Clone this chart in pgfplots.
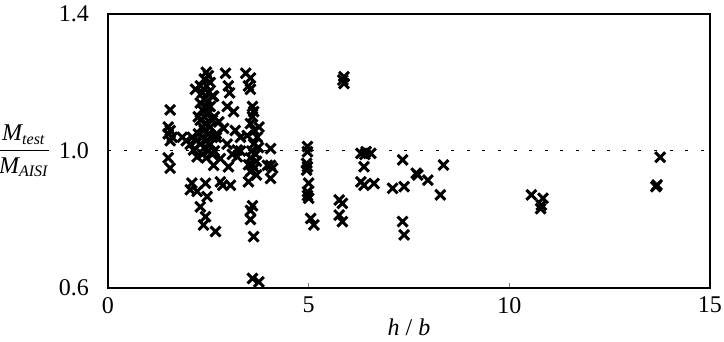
\documentclass[border=0pt]{standalone}
\usepackage{amsmath}
\usepackage{pgfplots}
\pgfplotsset{compat=1.18}
\usepackage{fontspec}
\setmainfont{Liberation Serif}
\begin{document}
\begin{tikzpicture}
\begin{axis}[
  scale only axis,
  width=301pt, height=137pt,
  xmin=0, xmax=15, ymin=0.6, ymax=1.4,
  xtick={0,5,10,15}, ytick={0.6,1.0,1.4},
  axis line style={line width=0.6pt},
  tick align=inside, xtick pos=bottom, ytick pos=left,
  major tick length=2.5pt,
  ytick style={draw=none},
  /pgf/number format/assume math mode=true,
  ticklabel style={font=\fontsize{12}{14}\selectfont},
  yticklabel style={/pgf/number format/.cd, fixed, fixed zerofill, precision=1, /tikz/.cd, xshift=-6pt},
  xticklabel style={yshift=-1pt},
  xlabel={\textit{h} / \textit{b}},
  xlabel style={at={(axis description cs:0.5,0)}, anchor=center, yshift=-19.5pt, font=\fontsize{12}{14}\selectfont},
  ylabel={$\dfrac{\textit{M}_{\textit{test}}}{\textit{M}_{\textit{AISI}}}$},
  ylabel style={rotate=-90, at={(axis description cs:0,0.5)}, anchor=east, xshift=-25pt, font=\fontsize{12}{14}\selectfont},
  clip=false,
]
\addplot[black, line width=0.5pt, dash pattern=on 1.5pt off 6.3pt] coordinates {(0,1) (15,1)};
\addplot[only marks, mark=x, mark size=3.5pt, mark options={line width=1.5pt, black}] coordinates {
(1.55,1.12) (1.5,1.07) (1.55,1.06) (1.5,1.05) (1.6,1.04) (1.55,1.03) (1.5,0.98) (1.55,0.95)
(1.85,1.04) (1.95,1.03) (2.05,1.02) (2.1,1.04) (2.22,0.983) (2.13,1.003)
(2.09,0.906) (2.05,0.887) (2.22,0.882) (2.43,0.906) (2.47,0.867) (2.3,0.837) (2.43,0.808) (2.38,0.784) (2.68,0.765)
(2.45,1.23) (2.5,1.22) (2.4,1.21) (2.55,1.20) (2.3,1.19) (2.45,1.19) (2.35,1.17) (2.5,1.17) (2.6,1.16) (2.4,1.15)
(2.3,1.14) (2.45,1.13) (2.55,1.13) (2.35,1.12) (2.5,1.11) (2.4,1.10) (2.3,1.09) (2.6,1.09) (2.45,1.08) (2.35,1.07)
(2.55,1.07) (2.4,1.06) (2.25,1.05) (2.5,1.05) (2.35,1.04) (2.6,1.04) (2.45,1.03) (2.3,1.02) (2.55,1.02) (2.4,1.01)
(2.5,1.00) (2.35,0.99) (2.6,0.99) (2.45,0.98) (2.2,1.03) (2.7,1.05) (2.65,1.1) (2.18,1.18) (2.63,1.16) (2.25,1.1)
(2.93,1.227) (3.0,1.19) (3.03,1.17) (2.97,1.13) (3.13,1.115) (2.76,1.085) (2.88,1.066) (3.17,1.06) (3.3,1.04) (3.22,1.003)
(2.97,1.02) (2.63,0.958) (2.8,0.978) (3.0,0.954) (2.8,0.91) (2.86,0.9) (3.05,0.9) (3.22,0.983) (2.65,1.0) (2.7,1.04)
(3.1,0.99) (3.3,1.0)
(3.43,1.227) (3.55,1.213) (3.5,1.19) (3.55,1.18) (3.6,1.13) (3.63,1.115) (3.6,1.1) (3.55,1.08) (3.65,1.06) (3.76,1.07)
(3.72,1.04) (3.47,1.045) (3.63,1.02) (3.58,1.0) (3.68,0.99) (3.55,0.98) (3.7,0.97) (3.6,0.96) (3.65,0.95) (3.55,0.94)
(3.7,0.93) (3.5,0.91) (3.6,0.84) (3.55,0.826) (3.55,0.8) (3.63,0.75) (3.6,0.628) (3.76,0.618) (3.75,1.01) (3.5,0.96)
(4.05,1.007) (4.05,0.958) (3.97,0.958) (4.1,0.95) (4.05,0.92)
(4.97,1.013) (4.97,0.998) (4.95,0.964) (4.95,0.944) (4.97,0.954) (5.0,0.906) (4.97,0.881) (5.0,0.862) (4.97,0.87) (5.05,0.803) (5.13,0.784)
(5.88,1.217) (5.88,1.197) (5.85,1.207) (5.76,0.857) (5.84,0.847) (5.76,0.813) (5.84,0.794)
(6.3,0.993) (6.43,0.998) (6.55,0.993) (6.4,0.99) (6.38,0.954) (6.3,0.91) (6.38,0.9) (6.63,0.905)
(7.09,0.891) (7.38,0.896) (7.34,0.974) (7.34,0.794) (7.38,0.755) (7.68,0.935) (7.72,0.93) (7.97,0.915) (8.36,0.959) (8.28,0.872)
(10.55,0.872) (10.84,0.862) (10.8,0.842) (10.78,0.832)
(13.68,0.901) (13.65,0.896) (13.76,0.982)
};
\end{axis}
\pgfresetboundingbox
\path[use as bounding box] (current axis.south west) ++(-54pt,-27pt) rectangle ++(362pt,171pt);
\end{tikzpicture}
\end{document}
